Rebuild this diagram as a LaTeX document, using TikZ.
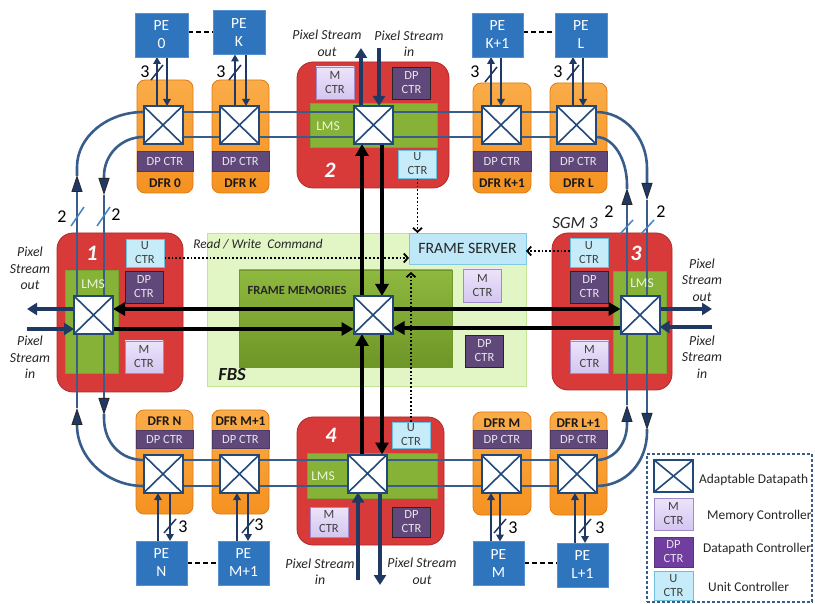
\documentclass[tikz,border=0pt]{standalone}
\usepackage{fontspec}
\setmainfont{Carlito}
\usetikzlibrary{arrows.meta}
\pgfdeclarelayer{back}
\pgfdeclarelayer{lines}
\pgfsetlayers{back,lines,main}
\newcommand{\myfs}[2]{\fontsize{#1}{#2}\selectfont}
\definecolor{lblue}{RGB}{56,93,138}
\definecolor{navy}{RGB}{31,56,100}
\definecolor{peblue}{RGB}{46,117,190}
\definecolor{peborder}{RGB}{85,145,210}
\definecolor{orng}{RGB}{245,146,32}
\definecolor{orngtop}{RGB}{250,172,72}
\definecolor{orngbd}{RGB}{228,122,22}
\definecolor{segred}{RGB}{216,58,58}
\definecolor{segbd}{RGB}{175,40,40}
\definecolor{lmsg}{RGB}{134,178,55}
\definecolor{lmsbd}{RGB}{118,162,45}
\definecolor{dpc}{RGB}{96,73,122}
\definecolor{dpleg}{RGB}{112,62,158}
\definecolor{mcfill}{RGB}{212,198,240}
\definecolor{mctop}{RGB}{236,228,250}
\definecolor{mcbd}{RGB}{160,140,205}
\definecolor{ucfill}{RGB}{198,236,250}
\definecolor{ucbd}{RGB}{110,190,222}
\definecolor{fbsfill}{RGB}{226,245,196}
\definecolor{fbsbd}{RGB}{196,228,150}
\definecolor{fmtop}{RGB}{142,184,62}
\definecolor{fmbot}{RGB}{110,150,40}
\definecolor{fsfill}{RGB}{190,232,248}
\definecolor{fsbd}{RGB}{130,200,228}
\definecolor{xbc}{RGB}{35,72,122}
\definecolor{slashc}{RGB}{70,130,200}
\tikzset{
 box/.style={rectangle, inner sep=0pt, outer sep=0pt, align=center},
 pe/.style={box, fill=peblue, draw=peborder, line width=0.8pt, text=white, font=\myfs{15.5}{18}, minimum width=52pt, minimum height=44pt},
 dfr/.style={box, rounded corners=8pt, top color=orngtop, bottom color=orng, draw=orngbd, line width=0.8pt},
 seg/.style={box, rounded corners=16pt, fill=segred, draw=segbd, line width=0.8pt},
 lms/.style={box, fill=lmsg, draw=lmsbd, line width=0.5pt},
 dpbar/.style={box, fill=dpc, draw=dpc!80!black, line width=0.6pt, text=white!85!dpc, font=\myfs{12.5}{13}},
 ctr/.style={box, line width=0.8pt, font=\myfs{12.5}{14}, minimum width=38pt},
 mctr/.style={ctr, top color=mctop, bottom color=mcfill, draw=mcbd, text=black!75},
 dpctr/.style={ctr, fill=dpc, draw=black!85, text=white!85!dpc},
 uctr/.style={ctr, fill=ucfill, draw=ucbd, text=black!75},
 xbar/.style={box, draw=xbc, line width=2pt, fill=white, minimum width=39pt, minimum height=38pt,
   path picture={\draw[xbc, line width=1.6pt] (path picture bounding box.north west) -- (path picture bounding box.south east) (path picture bounding box.north east) -- (path picture bounding box.south west);}},
 bl/.style={draw=lblue, line width=2.6pt},
 lptip/.style={-{Triangle[width=11pt,length=17pt,color=black!85,fill=navy,line width=0.8pt]}},
 psarr/.style={draw=navy, line width=3.2pt, -{Triangle[width=12pt,length=10pt]}},
 pearr/.style={draw=navy, line width=2.2pt, -{Triangle[width=7.5pt,length=7pt]}},
 blk/.style={draw=black, line width=3.8pt, -{Triangle[width=13pt,length=12pt]}},
 dotarr/.style={draw=black, line width=1.8pt, dotted, -{Straight Barb[length=4pt,width=9pt]}},
 psl/.style={font=\myfs{13.8}{16.5}\itshape, align=center, text=black!85, inner sep=0pt},
 num/.style={font=\myfs{22}{22}\bfseries\itshape, text=white, inner sep=0pt},
 lmst/.style={font=\myfs{13.5}{14}, text=white!85!lmsg, inner sep=0pt},
 nthree/.style={font=\myfs{18}{18}, inner sep=0pt},
 slsh/.style={draw=navy, line width=1.5pt},
 slshb/.style={draw=slashc, line width=1.5pt},
 dfrt/.style={font=\myfs{13.3}{13}\bfseries, inner sep=0pt, text=black!90},
 legt/.style={font=\myfs{13.4}{14}, anchor=west, inner sep=0pt, text=black!85},
}
\begin{document}
\begin{tikzpicture}[x=1pt,y=-1pt]
\useasboundingbox (0,0) rectangle (815,604);
\begin{pgfonlayer}{back}
\fill[white] (0,0) rectangle (815,604);
% FBS
\node[box, fill=fbsfill, draw=fbsbd, line width=0.8pt, minimum width=319pt, minimum height=153pt] (fbs) at (366.5,309.5) {};
\node[box, top color=fmtop, bottom color=fmbot, draw=fmbot, minimum width=213pt, minimum height=97pt] (fm) at (345.5,318.5) {};
\node[box, fill=fsfill, draw=fsbd, line width=0.8pt, minimum width=117pt, minimum height=31pt, font=\myfs{15.8}{16}, text=black!85] (fs) at (467.5,248.5) {FRAME SERVER};
\node[font=\myfs{12.5}{14}\bfseries, text=black!85, inner sep=0pt] (fmt) at (297,290) {FRAME MEMORIES};
\node[font=\myfs{18.5}{18}\bfseries\itshape, text=black!90, inner sep=0pt] (fbst) at (232,375) {FBS};
% segments
\node[seg, minimum width=126pt, minimum height=159pt] (s1) at (120,312.5) {};
\node[seg, minimum width=152pt, minimum height=126pt] (s2) at (373,125) {};
\node[seg, minimum width=120pt, minimum height=157pt] (s3) at (612,311.5) {};
\node[seg, minimum width=147pt, minimum height=128pt] (s4) at (370.5,481) {};
\node[lms, minimum width=53pt, minimum height=103pt] (l1) at (91.5,321.5) {};
\node[lms, minimum width=127pt, minimum height=44pt] (l2) at (373.5,125) {};
\node[lms, minimum width=53pt, minimum height=102pt] (l3) at (639.5,322) {};
\node[lms, minimum width=130pt, minimum height=45pt] (l4) at (372,475.5) {};
% DFR top
\node[dfr, minimum width=56pt, minimum height=113pt] (d0) at (165,136.5) {};
\node[dfr, minimum width=57pt, minimum height=113pt] (dK) at (240.5,136.5) {};
\node[dfr, minimum width=58pt, minimum height=110pt] (dK1) at (502,138) {};
\node[dfr, minimum width=57pt, minimum height=110pt] (dL) at (578.5,138) {};
\node[dpbar, minimum width=56pt, minimum height=20pt] (b0) at (165,161) {DP CTR};
\node[dpbar, minimum width=57pt, minimum height=20pt] (bK) at (240.5,161) {DP CTR};
\node[dpbar, minimum width=58pt, minimum height=20pt] (bK1) at (502,161) {DP CTR};
\node[dpbar, minimum width=57pt, minimum height=20pt] (bL) at (578.5,161) {DP CTR};
\node[dfrt] (t0) at (165,183) {DFR 0};
\node[dfrt] (tK) at (240.5,183) {DFR K};
\node[dfrt] (tK1) at (502,183) {DFR K+1};
\node[dfrt] (tL) at (578.5,183) {DFR L};
% DFR bottom
\node[dfr, minimum width=57pt, minimum height=104pt] (dN) at (164.5,462) {};
\node[dfr, minimum width=57pt, minimum height=104pt] (dM1) at (240.5,462) {};
\node[dfr, minimum width=58pt, minimum height=103pt] (dM) at (502,463.5) {};
\node[dfr, minimum width=57pt, minimum height=103pt] (dL1) at (578.5,463.5) {};
\node[dpbar, minimum width=57pt, minimum height=18pt] (bN) at (164.5,439) {DP CTR};
\node[dpbar, minimum width=57pt, minimum height=18pt] (bM1) at (240.5,439) {DP CTR};
\node[dpbar, minimum width=58pt, minimum height=18pt] (bM) at (502,439) {DP CTR};
\node[dpbar, minimum width=57pt, minimum height=18pt] (bL1) at (578.5,439) {DP CTR};
\node[dfrt] (tN) at (164.5,421) {DFR N};
\node[dfrt] (tM1) at (240.5,421) {DFR M+1};
\node[dfrt] (tM) at (502,423) {DFR M};
\node[dfrt] (tL1) at (578.5,423) {DFR L+1};
% legend frame
\node[box, draw=lblue, dash pattern=on 3pt off 2pt, line width=1.2pt, minimum width=165pt, minimum height=148pt] (leg) at (729.5,528) {};
\end{pgfonlayer}

% crossbars
\node[xbar] (xd0) at (163,125) {};
\node[xbar] (xdK) at (239.5,125) {};
\node[xbar] (xdK1) at (501,125) {};
\node[xbar] (xdL) at (576.5,125) {};
\node[xbar] (xdN) at (163,474) {};
\node[xbar] (xdM1) at (239.5,474) {};
\node[xbar] (xdM) at (501,474) {};
\node[xbar] (xdL1) at (577,474) {};
\node[xbar] (xb1) at (93.5,315) {};
\node[xbar] (xb2) at (373.5,125) {};
\node[xbar] (xbc) at (373,315) {};
\node[xbar] (xb3) at (640,315) {};
\node[xbar] (xb4) at (367.5,473.5) {};

% controllers
\node[uctr, minimum height=28pt] (u1) at (145,253) {U\\CTR};
\node[dpctr, minimum height=32pt] (dp1) at (144,287) {DP\\CTR};
\node[mctr, minimum height=32pt] (m1) at (144,357) {M\\CTR};
\node[mctr, minimum height=32pt] (m2) at (335,83) {M\\CTR};
\node[dpctr, minimum height=32pt] (dp2) at (411.5,83) {DP\\CTR};
\node[uctr, minimum height=28pt] (u2) at (417.5,164) {U\\CTR};
\node[uctr, minimum height=29pt] (u3) at (589,252.5) {U\\CTR};
\node[dpctr, minimum height=32pt] (dp3) at (589.5,287) {DP\\CTR};
\node[mctr, minimum height=32pt] (m3) at (589.5,357) {M\\CTR};
\node[uctr, minimum height=26pt] (u4) at (411,435) {U\\CTR};
\node[mctr, minimum height=30pt] (m4) at (329,522) {M\\CTR};
\node[dpctr, minimum height=30pt] (dp4) at (411.5,522) {DP\\CTR};
\node[mctr, minimum height=33pt] (mf) at (482.5,285.5) {M\\CTR};
\node[dpctr, minimum height=32pt] (dpf) at (484.5,351) {DP\\CTR};

% labels in segments
\node[num] (n1) at (92,253) {1};
\node[num] (n2) at (330,170) {2};
\node[num] (n3) at (636,253) {3};
\node[num] (n4) at (331,435) {4};
\node[lmst] (lt1) at (93,284) {LMS};
\node[lmst] (lt2) at (328,126) {LMS};
\node[lmst] (lt3) at (642,283) {LMS};
\node[lmst] (lt4) at (323,476) {LMS};

% PEs
\node[pe, minimum width=53pt] (pe0) at (161.5,35) {PE\\0};
\node[pe] (peK) at (239,32.5) {PE\\K};
\node[pe, minimum width=51pt] (peK1) at (497.5,35) {PE\\K+1};
\node[pe] (peL) at (581,35) {PE\\L};
\node[pe, minimum width=51pt] (peN) at (161.5,563) {PE\\N};
\node[pe, minimum width=51pt] (peM1) at (243.5,563) {PE\\M+1};
\node[pe, minimum width=51pt] (peM) at (498.5,563.5) {PE\\M};
\node[pe, minimum width=51pt] (peL1) at (582.5,565) {PE\\L+1};

% texts
\node[psl] (ps1ot) at (30,268.5) {Pixel\\Stream\\out};
\node[psl] (ps1it) at (30,357.5) {Pixel\\Stream\\in};
\node[psl] (ps3ot) at (702,280) {Pixel\\Stream\\out};
\node[psl] (ps3it) at (702,357) {Pixel\\Stream\\in};
\node[psl] (ps2ot) at (327,43.5) {Pixel Stream\\out};
\node[psl] (ps2it) at (409,43.5) {Pixel Stream\\in};
\node[psl] (ps4it) at (320,571.5) {Pixel Stream\\in};
\node[psl] (ps4ot) at (422,571.5) {Pixel Stream\\out};
\node[font=\myfs{13.3}{14}\itshape, text=black!85, inner sep=0pt] (rw) at (258,244) {Read / Write\ \ Command};
\node[font=\myfs{17}{17}\itshape, text=black!85, inner sep=0pt] (sgm) at (575,223) {SGM 3};
\node[nthree] (w0) at (145,72) {3};
\node[nthree] (wK) at (221,72) {3};
\node[nthree] (wK1) at (475,72) {3};
\node[nthree] (wL) at (558,72) {3};
\node[nthree] (wN) at (183,527) {3};
\node[nthree] (wM1) at (259,525) {3};
\node[nthree] (wM) at (513,528) {3};
\node[nthree] (wL1) at (600,528) {3};
\node[nthree] (za) at (62,217) {2};
\node[nthree] (zb) at (116,215) {2};
\node[nthree] (zc) at (609,212) {2};
\node[nthree] (zd) at (661,212) {2};

% legend
\node[xbar, minimum height=32pt] (lx) at (673.5,476) {};
\node[mctr, minimum width=39pt, minimum height=32pt] (lm) at (673.5,514) {M\\CTR};
\node[dpctr, fill=dpleg, draw=dpleg!80!black, minimum width=39pt, minimum height=30pt] (ld) at (673.5,552) {DP\\CTR};
\node[uctr, minimum width=39pt, minimum height=29pt] (lu) at (673.5,586) {U\\CTR};
\node[legt] (lxt) at (699,480) {Adaptable Datapath};
\node[legt] (lmt) at (707,516) {Memory Controller};
\node[legt] (ldt) at (703,549) {Datapath Controller};
\node[legt] (lut) at (708,587) {Unit Controller};

% free ends
\coordinate (ps1o) at (27,309);
\coordinate (ps1i) at (27,329);
\coordinate (ps3o) at (712,309);
\coordinate (ps3i) at (712,327);
\coordinate (ps2o) at (361,48);
\coordinate (ps2i) at (379,48);
\coordinate (ps4i) at (358,580);
\coordinate (ps4o) at (380,585);

\begin{pgfonlayer}{lines}
% ring lines
\draw[bl] (xd0.west |- 0,112) -- (xdL.east |- 0,112);
\draw[bl] (xd0.west |- 0,137) -- (xdL.east |- 0,137);
\draw[bl] (xdN.west |- 0,460) -- (xdL1.east |- 0,460);
\draw[bl] (xdN.west |- 0,486) -- (xdL1.east |- 0,486);
% left outer
\draw[bl, lptip] (xdN.west |- 0,486) .. controls (107,486) and (77,458) .. (77,425) -- (77,408);
\draw[bl, lptip] (77,408) -- (77,175);
\draw[bl] (77,176) -- (77,167) .. controls (77,137) and (107,112) .. (xd0.west |- 0,112);
% left inner
\draw[bl, lptip] (xd0.west |- 0,137) .. controls (121,137) and (104,155) .. (104,176) -- (104,195);
\draw[bl, lptip] (104,195) -- (104,415);
\draw[bl] (104,414) -- (104,418) .. controls (104,443) and (121,460) .. (xdN.west |- 0,460);
% right outer
\draw[bl, lptip] (xdL.east |- 0,112) .. controls (625,112) and (647,138) .. (647,168) -- (647,200);
\draw[bl, lptip] (647,200) -- (647,430);
\draw[bl] (647,429) -- (647,432) .. controls (647,462) and (626,486) .. (xdL1.east |- 0,486);
% right inner
\draw[bl, lptip] (xdL1.east |- 0,460) .. controls (614,460) and (627,444) .. (627,424) -- (627,405);
\draw[bl, lptip] (627,405) -- (627,188);
\draw[bl] (627,189) -- (627,185) .. controls (627,160) and (614,137) .. (xdL.east |- 0,137);
% black links
\draw[blk] (xbc.west |- 0,309) -- (xb1.east |- 0,309);
\draw[blk] (xb1.east |- 0,329) -- (xbc.west |- 0,329);
\draw[blk] (xbc.east |- 0,309) -- (xb3.west |- 0,309);
\draw[blk] (xb3.west |- 0,328) -- (xbc.east |- 0,328);
\draw[blk] (xbc.north -| 362,0) -- (xb2.south -| 362,0);
\draw[blk] (xb2.south -| 382,0) -- (xbc.north -| 382,0);
\draw[blk] (xb4.north -| 362,0) -- (xbc.south -| 362,0);
\draw[blk] (xbc.south -| 382,0) -- (xb4.north -| 382,0);
% pixel streams
\draw[psarr] (xb1.west |- 0,309) -- (ps1o);
\draw[psarr] (ps1i) -- (xb1.west |- 0,329);
\draw[psarr] (xb3.east |- 0,309) -- (ps3o);
\draw[psarr] (ps3i) -- (xb3.east |- 0,327);
\draw[psarr] (xb2.north -| 361,0) -- (ps2o);
\draw[psarr] (ps2i) -- (xb2.north -| 379,0);
\draw[psarr] (ps4i) -- (xb4.south -| 358,0);
\draw[psarr] (xb4.south -| 380,0) -- (ps4o);
% PE links
\draw[pearr] (xd0.north -| 157,0) -- (pe0.south -| 157,0);
\draw[pearr] (pe0.south -| 167,0) -- (xd0.north -| 167,0);
\draw[pearr] (xdK.north -| 235,0) -- (peK.south -| 235,0);
\draw[pearr] (peK.south -| 246,0) -- (xdK.north -| 246,0);
\draw[pearr] (xdK1.north -| 491,0) -- (peK1.south -| 491,0);
\draw[pearr] (peK1.south -| 501,0) -- (xdK1.north -| 501,0);
\draw[pearr] (xdL.north -| 573,0) -- (peL.south -| 573,0);
\draw[pearr] (peL.south -| 583,0) -- (xdL.north -| 583,0);
\draw[pearr] (peN.north -| 158,0) -- (xdN.south -| 158,0);
\draw[pearr] (xdN.south -| 170,0) -- (peN.north -| 170,0);
\draw[pearr] (peM1.north -| 237,0) -- (xdM1.south -| 237,0);
\draw[pearr] (xdM1.south -| 248,0) -- (peM1.north -| 248,0);
\draw[pearr] (peM.north -| 491,0) -- (xdM.south -| 491,0);
\draw[pearr] (xdM.south -| 500,0) -- (peM.north -| 500,0);
\draw[pearr] (peL1.north -| 575,0) -- (xdL1.south -| 575,0);
\draw[pearr] (xdL1.south -| 585,0) -- (peL1.north -| 585,0);
% dashed PE links
\draw[black, line width=1.5pt, dash pattern=on 5pt off 3pt] (pe0.east |- 0,32) -- (peK.west |- 0,32);
\draw[black, line width=1.5pt, dash pattern=on 5pt off 3pt] (peK1.east |- 0,32) -- (peL.west |- 0,32);
\draw[black, line width=1.5pt, dash pattern=on 5pt off 3pt] (peN.east |- 0,563) -- (peM1.west |- 0,563);
\draw[black, line width=1.5pt, dash pattern=on 5pt off 3pt] (peM.east |- 0,563) -- (peL1.west |- 0,563);
% dotted commands
\draw[dotarr] (u2.south) -- (fs.north -| u2.south);
\draw[dotarr] (u4.north) -- (u4.north |- 0,272);
\draw[dotarr] (u1.east |- 0,258) -- (fs.west |- 0,258);
\draw[dotarr] (u3.west |- 0,251) -- (fs.east |- 0,251);
\end{pgfonlayer}

% bus width slashes
\draw[slsh] (151,80) -- (163,65);
\draw[slsh] (229,80) -- (241,65);
\draw[slsh] (485,82) -- (497,67);
\draw[slsh] (567,80) -- (579,65);
\draw[slsh] (164,533) -- (176,519);
\draw[slsh] (242,533) -- (254,519);
\draw[slsh] (494,533) -- (506,519);
\draw[slsh] (579,533) -- (591,519);
\draw[slshb] (71,226) -- (84,207);
\draw[slshb] (97,226) -- (110,207);
\draw[slshb] (620,234) -- (633,220);
\draw[slshb] (641,234) -- (654,220);
\end{tikzpicture}
\end{document}
